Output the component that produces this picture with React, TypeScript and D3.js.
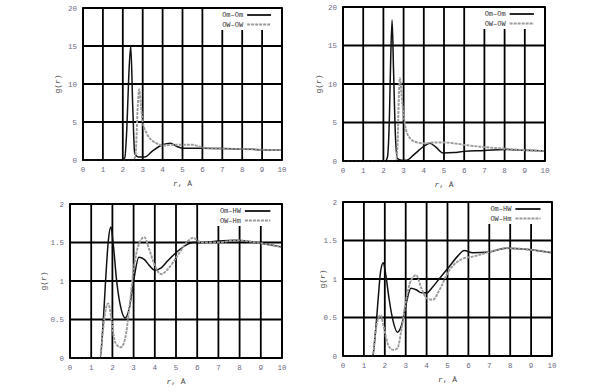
import * as d3 from 'd3'

// r grid (Å) and g(r) values
const rTopA = [0, 1.9, 2.1, 2.2, 2.3, 2.4, 2.5, 2.6, 2.8, 3.0, 3.1, 3.5, 4.0, 4.4, 4.7, 5.0, 5.5, 6, 7, 8, 9, 10]
const omOmLeft = [0, 0, 0.3, 4, 11, 15, 7, 0.8, 0.4, 0.4, 0.4, 1.2, 2.0, 2.2, 1.8, 1.55, 1.55, 1.55, 1.5, 1.45, 1.35, 1.3]
const rTopB = [0, 2.55, 2.65, 2.75, 2.82, 2.9, 3.0, 3.2, 3.5, 3.7, 4.0, 4.5, 5.0, 5.5, 6, 7, 8, 9, 10]
const owOwLeft = [0, 0, 1, 7, 9.3, 7.5, 5, 3.5, 2.5, 2.2, 1.9, 2.0, 2.0, 2.0, 1.65, 1.5, 1.45, 1.35, 1.3]

const rTopA2 = [0, 2.1, 2.2, 2.3, 2.35, 2.43, 2.5, 2.6, 2.7, 2.9, 3.15, 3.5, 4.0, 4.3, 4.6, 4.95, 5.5, 6, 7, 8, 9, 10]
const omOmRight = [0, 0, 0.5, 6, 12, 18.3, 12, 3, 0.3, 0.1, 0.1, 0.8, 1.9, 2.3, 1.8, 1.05, 1.1, 1.25, 1.35, 1.5, 1.4, 1.3]
const rTopB2 = [0, 2.62, 2.7, 2.76, 2.82, 2.9, 3.0, 3.17, 3.56, 4.0, 4.5, 5.0, 5.5, 6, 7, 8, 9, 10]
const owOwRight = [0, 0, 2, 8, 10.8, 8.5, 6, 3.6, 2.5, 2.3, 2.4, 2.4, 2.3, 2.1, 1.8, 1.6, 1.4, 1.3]

const rBot = [0, 1.42, 1.55, 1.7, 1.8, 1.93, 2.05, 2.2, 2.4, 2.6, 2.8, 3.0, 3.25, 3.5, 3.75, 4.0, 4.3, 4.6, 5.05, 5.5, 5.8, 6.2, 7, 7.8, 9, 10]
const omHwLeft = [0, 0, 0.4, 1.1, 1.5, 1.7, 1.45, 1.0, 0.65, 0.52, 0.65, 1.0, 1.31, 1.28, 1.2, 1.14, 1.17, 1.26, 1.38, 1.47, 1.5, 1.5, 1.52, 1.53, 1.49, 1.44]
const owHmLeft = [0, 0, 0.35, 0.65, 0.71, 0.55, 0.3, 0.17, 0.14, 0.25, 0.65, 1.15, 1.48, 1.57, 1.4, 1.2, 1.09, 1.15, 1.32, 1.5, 1.56, 1.5, 1.5, 1.53, 1.49, 1.44]
const omHwRight = [0, 0, 0.3, 0.8, 1.1, 1.21, 1.05, 0.75, 0.45, 0.31, 0.4, 0.65, 0.88, 0.86, 0.82, 0.82, 0.9, 1.0, 1.15, 1.3, 1.37, 1.34, 1.35, 1.4, 1.38, 1.34]
const owHmRight = [0, 0, 0.3, 0.5, 0.53, 0.4, 0.25, 0.12, 0.08, 0.1, 0.35, 0.7, 0.98, 1.05, 0.88, 0.75, 0.73, 0.85, 1.1, 1.23, 1.27, 1.29, 1.35, 1.4, 1.38, 1.34]

const xTicks = d3.range(0, 11)
const yTicksTop = [0, 5, 10, 15, 20]
const yTicksBot = [0, 0.5, 1, 1.5, 2]

type Series = { r: number[]; g: number[]; name: string; solid: boolean }
type PanelCfg = {
  left: number; right: number; top: number; bottom: number
  yMax: number; yTicks: number[]; series: Series[]
  yLabelX: number; legendX: number
}

const panels: PanelCfg[] = [
  {
    left: 83, right: 282, top: 8, bottom: 160, yMax: 20, yTicks: yTicksTop, yLabelX: 57, legendX: 6.6,
    series: [
      { r: rTopA, g: omOmLeft, name: 'Om–Om', solid: true },
      { r: rTopB, g: owOwLeft, name: 'OW–OW', solid: false },
    ],
  },
  {
    left: 343, right: 545, top: 7, bottom: 161, yMax: 20, yTicks: yTicksTop, yLabelX: 318, legendX: 6.6,
    series: [
      { r: rTopA2, g: omOmRight, name: 'Om–Om', solid: true },
      { r: rTopB2, g: owOwRight, name: 'OW–OW', solid: false },
    ],
  },
  {
    left: 70, right: 282, top: 204, bottom: 358, yMax: 2, yTicks: yTicksBot, yLabelX: 43, legendX: 6.6,
    series: [
      { r: rBot, g: omHwLeft, name: 'Om–HW', solid: true },
      { r: rBot, g: owHmLeft, name: 'OW–Hm', solid: false },
    ],
  },
  {
    left: 343, right: 552, top: 202, bottom: 356, yMax: 2, yTicks: yTicksBot, yLabelX: 322, legendX: 6.6,
    series: [
      { r: rBot, g: omHwRight, name: 'Om–HW', solid: true },
      { r: rBot, g: owHmRight, name: 'OW–Hm', solid: false },
    ],
  },
]

const font = '"Liberation Mono", monospace'
const labelColor = '#6a6a80'

function Panel({ cfg }: { cfg: PanelCfg }) {
  const x = d3.scaleLinear().domain([0, 10]).range([cfg.left, cfg.right])
  const y = d3.scaleLinear().domain([0, cfg.yMax]).range([cfg.bottom, cfg.top])
  const fmt = (v: number) => String(v)

  const lx0 = x(cfg.legendX)
  const lineX0 = x(8.25)
  const lineX1 = x(9.45)

  return (
    <g>
      {/* grid */}
      {xTicks.map(t => (
        <line key={'vx' + t} x1={x(t)} x2={x(t)} y1={cfg.top} y2={cfg.bottom} stroke="#000" strokeWidth={1.8} />
      ))}
      {cfg.yTicks.map(t => (
        <line key={'hy' + t} x1={cfg.left} x2={cfg.right} y1={y(t)} y2={y(t)} stroke="#000" strokeWidth={1.8} />
      ))}

      {/* legend box hides the grid */}
      <rect x={lx0} y={cfg.top + 1} width={cfg.right - lx0 - 1} height={21} fill="#fff" />

      {/* curves */}
      {cfg.series.map((s, i) => {
        const pts = s.r.map((r, j) => [r, s.g[j]] as [number, number])
        const path = d3.line<[number, number]>()
          .x(d => x(d[0]))
          .y(d => y(d[1]))
          .curve(d3.curveMonotoneX)(pts) || ''
        return (
          <path key={'s' + i} d={path} fill="none"
            stroke={s.solid ? '#111' : '#9a9a9a'}
            strokeWidth={s.solid ? 1.5 : 1.9}
            strokeDasharray={s.solid ? undefined : '3,1'} />
        )
      })}

      {/* legend */}
      {cfg.series.map((s, i) => {
        const ly = cfg.top + 7 + i * 9.5
        return (
          <g key={'lg' + i}>
            <text x={lineX0 - 4} y={ly} dy="0.35em" textAnchor="end" fontFamily={font} fontSize={7} fill="#333">{s.name}</text>
            <line x1={lineX0} x2={lineX1} y1={ly} y2={ly}
              stroke={s.solid ? '#111' : '#9a9a9a'} strokeWidth={1.8}
              strokeDasharray={s.solid ? undefined : '3,1'} />
          </g>
        )
      })}

      {/* border */}
      <rect x={cfg.left} y={cfg.top} width={cfg.right - cfg.left} height={cfg.bottom - cfg.top} fill="none" stroke="#000" strokeWidth={1.8} />

      {/* tick labels */}
      {xTicks.map(t => (
        <text key={'xl' + t} x={x(t)} y={cfg.bottom + 9} dy="0.35em" textAnchor="middle" fontFamily={font} fontSize={7.5} fill={labelColor}>{fmt(t)}</text>
      ))}
      {cfg.yTicks.map(t => (
        <text key={'yl' + t} x={cfg.left - 6} y={y(t)} dy="0.35em" textAnchor="end" fontFamily={font} fontSize={7.5} fill={labelColor}>{fmt(t)}</text>
      ))}

      {/* axis titles */}
      <text x={(cfg.left + cfg.right) / 2} y={cfg.bottom + 23} dy="0.35em" textAnchor="middle" fontFamily={font} fontSize={8} fill="#444">
        <tspan fontStyle="italic">r</tspan>, Å
      </text>
      <text transform={`translate(${cfg.yLabelX},${(cfg.top + cfg.bottom) / 2}) rotate(-90)`} textAnchor="middle" dy="0.35em" fontFamily={font} fontSize={8} fill="#444">
        g(<tspan fontStyle="italic">r</tspan>)
      </text>
    </g>
  )
}

export default function App() {
  return (
    <svg width={600} height={392} style={{ position: 'absolute', left: 0, top: 0, background: '#fff' }}>
      <rect width={600} height={392} fill="#fff" />
      {panels.map((p, i) => <Panel key={i} cfg={p} />)}
    </svg>
  )
}
